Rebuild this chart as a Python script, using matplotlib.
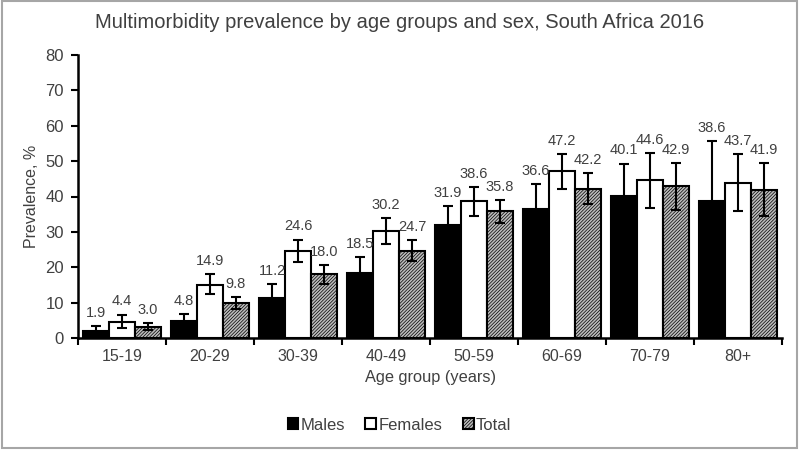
import matplotlib
matplotlib.use("Agg")
import matplotlib.pyplot as plt
import numpy as np
from matplotlib.patches import Rectangle

plt.rcParams['font.family'] = ['Liberation Sans', 'DejaVu Sans']
plt.rcParams['hatch.linewidth'] = 0.5

categories = ["15-19", "20-29", "30-39", "40-49", "50-59", "60-69", "70-79", "80+"]
males = [1.9, 4.8, 11.2, 18.5, 31.9, 36.6, 40.1, 38.6]
females = [4.4, 14.9, 24.6, 30.2, 38.6, 47.2, 44.6, 43.7]
total = [3.0, 9.8, 18.0, 24.7, 35.8, 42.2, 42.9, 41.9]
males_lo = [0.8, 3.3, 8.0, 15.0, 27.0, 30.5, 32.0, 25.0]
males_hi = [3.4, 6.8, 15.3, 22.8, 37.3, 43.5, 49.3, 55.6]
females_lo = [2.9, 12.3, 21.6, 26.6, 34.5, 42.1, 36.8, 35.9]
females_hi = [6.6, 18.0, 27.8, 34.0, 42.6, 52.1, 52.3, 51.9]
total_lo = [2.2, 8.2, 15.4, 21.8, 32.6, 37.8, 36.2, 34.5]
total_hi = [4.3, 11.5, 20.6, 27.7, 39.0, 46.6, 49.5, 49.5]

TXT = '#404040'
fig = plt.figure(figsize=(7.99, 4.5), dpi=100)
ax = fig.add_axes([78/799, 1-338/450, 704/799, 283/450])

x = np.arange(len(categories))
w = 0.295
series = [
    ("Males", males, males_lo, males_hi, dict(color='black', edgecolor='black')),
    ("Females", females, females_lo, females_hi, dict(color='white', edgecolor='black')),
    ("Total", total, total_lo, total_hi, dict(color='#bcbcbc', edgecolor='black', hatch='//////////')),
]
handles = []
for i, (name, vals, lo, hi, style) in enumerate(series):
    xs = x + (i - 1) * w
    vals = np.array(vals)
    yerr = [vals - np.array(lo), np.array(hi) - vals]
    b = ax.bar(xs, vals, w, linewidth=1.5, label=name, zorder=2, **style)
    handles.append(b)
    ax.errorbar(xs, vals, yerr=yerr, fmt='none', ecolor='black', elinewidth=1.5,
                capsize=3.5, capthick=1.5, zorder=3)
    for xi, v, h in zip(xs, vals, hi):
        ax.annotate(f"{v:.1f}", (xi, h), xytext=(0, 9.5), textcoords='offset points',
                    ha='center', va='center', fontsize=10.5, color=TXT)

ax.set_xlim(-0.5, len(categories) - 0.5)
ax.set_ylim(0, 80)
ax.set_yticks(np.arange(0, 81, 10))
ax.set_xticks(np.arange(-0.5, len(categories), 1.0))
ax.set_xticklabels([])
ax.set_xticks(x, minor=True)
ax.set_xticklabels(categories, minor=True)
ax.tick_params(axis='x', which='major', length=5, width=1.5, direction='out')
ax.tick_params(axis='x', which='minor', length=0, pad=8, labelsize=11.5, labelcolor=TXT)
ax.tick_params(axis='y', length=5, width=1.5, direction='out', labelsize=12, labelcolor=TXT, pad=5)
for s in ['top', 'right']:
    ax.spines[s].set_visible(False)
for s in ['left', 'bottom']:
    ax.spines[s].set_linewidth(1.8)
ax.set_ylabel("Prevalence, %", fontsize=11.5, color=TXT, labelpad=5)
ax.set_xlabel("Age group (years)", fontsize=11.8, color=TXT, labelpad=4)

fig.text(0.5, 1 - 22/450, "Multimorbidity prevalence by age groups and sex, South Africa 2016",
         ha='center', va='center', fontsize=14.5, color=TXT)

fig.legend(handles, [s[0] for s in series], loc='center', bbox_to_anchor=(0.5, 1 - 425/450),
           ncol=3, frameon=False, fontsize=12, handlelength=0.65, handleheight=0.65,
           handletextpad=0.15, columnspacing=1.2, labelcolor=TXT)

fig.patches.append(Rectangle((0.002, 0.004), 0.996, 0.993, transform=fig.transFigure,
                             fill=False, edgecolor='#a6a6a6', linewidth=1.5))

fig.savefig("out.png", dpi=100)
